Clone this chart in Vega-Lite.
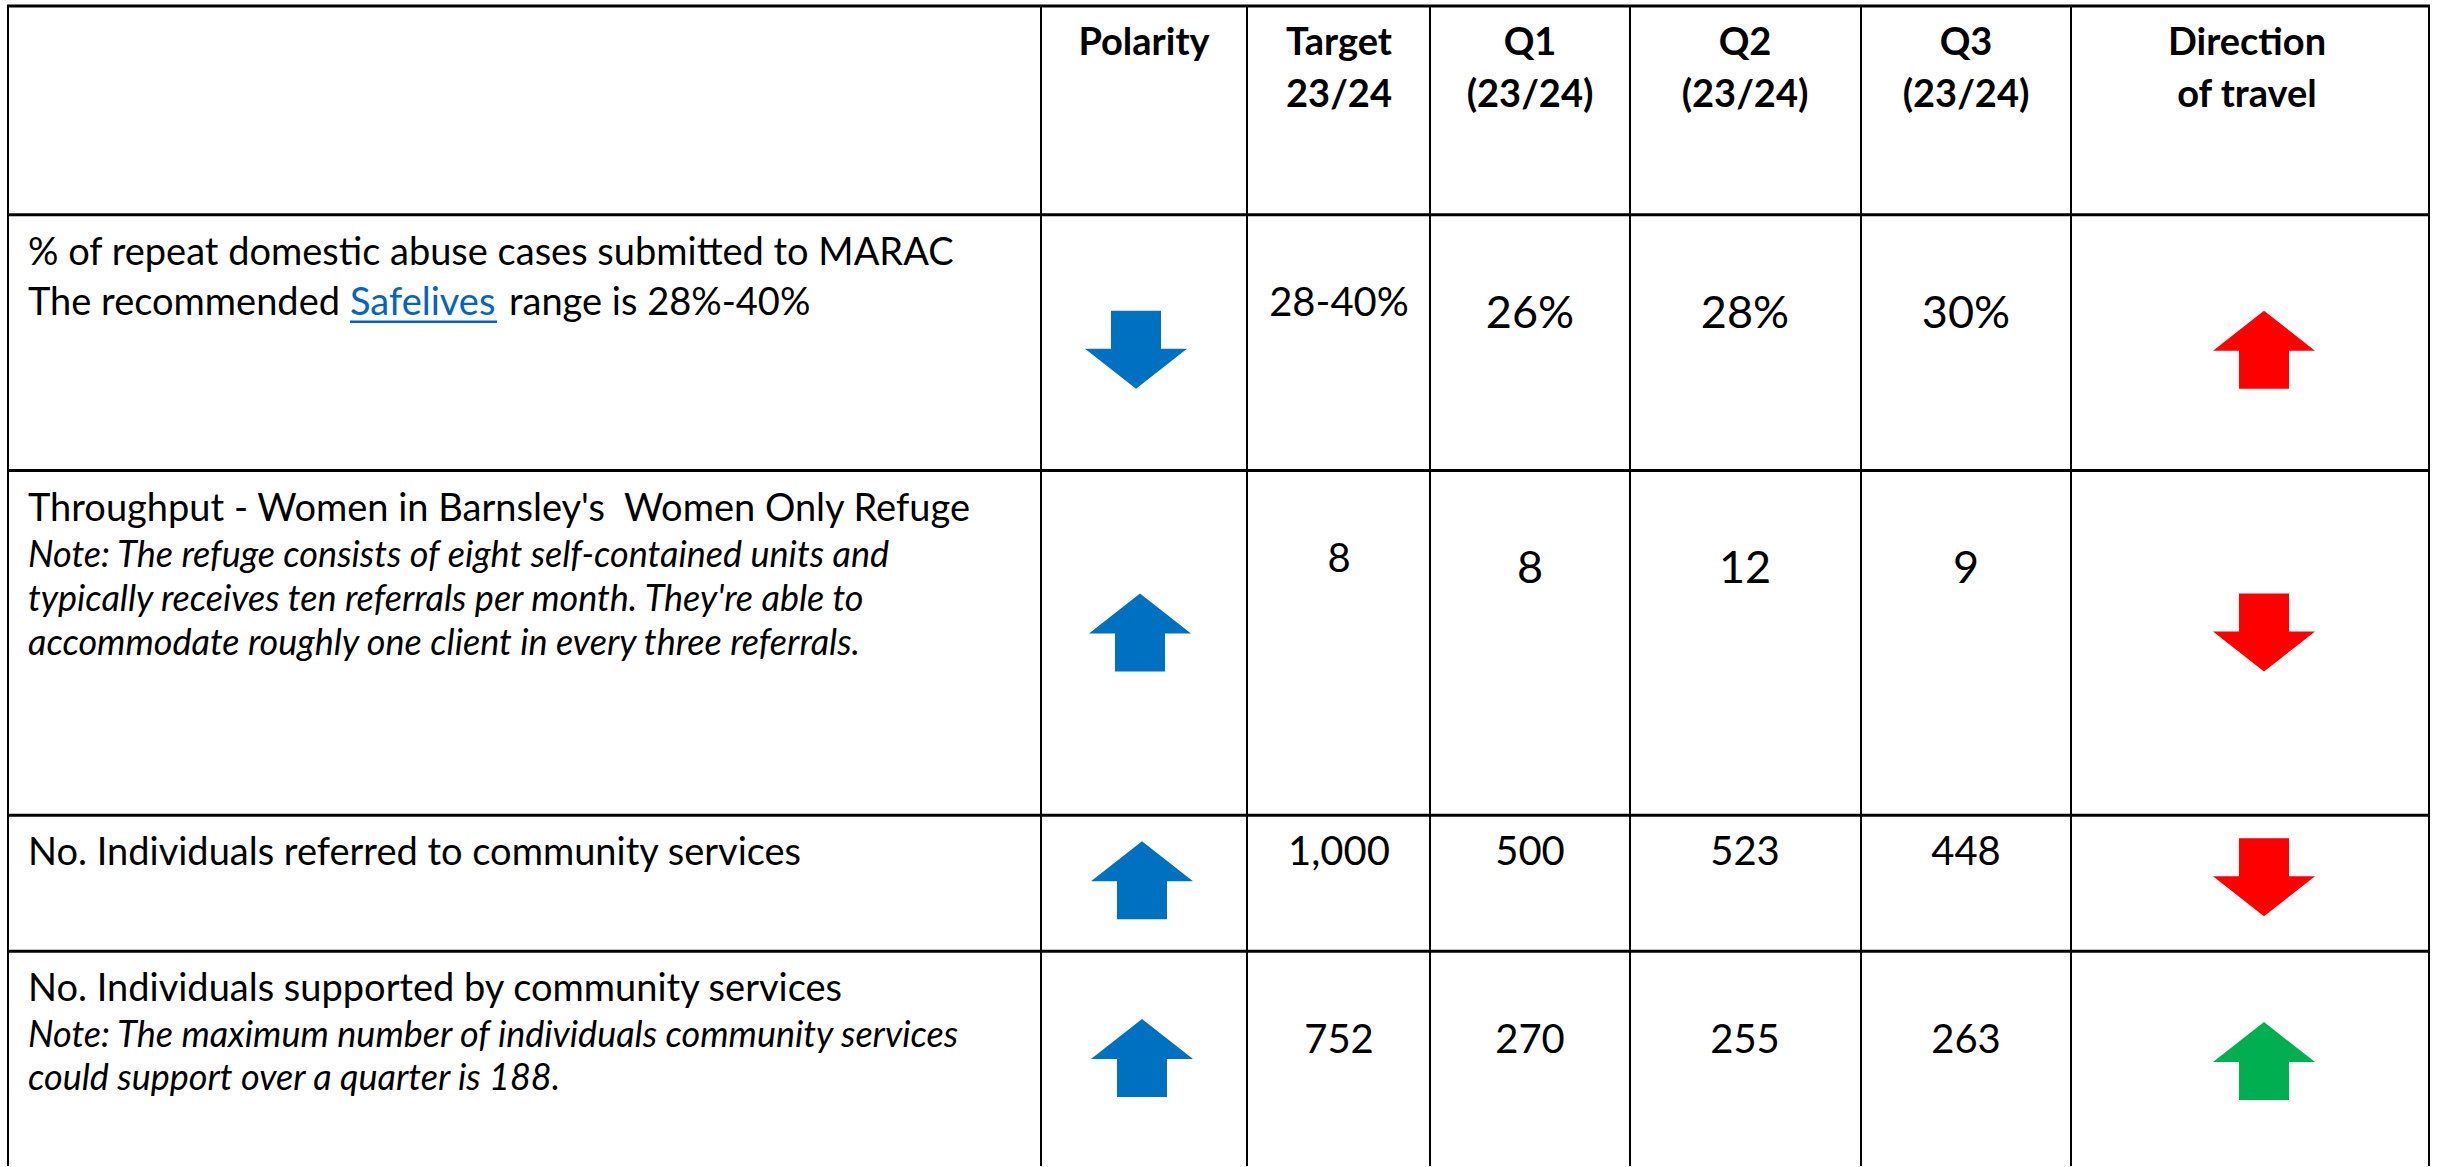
{
  "$schema": "https://vega.github.io/schema/vega-lite/v6.json",
  "width": 2440,
  "height": 1167,
  "autosize": {"type": "fit", "contains": "padding"},
  "padding": 0,
  "background": "white",
  "config": {"view": {"stroke": null}, "text": {"font": "Lato"}},
  "datasets": {
    "hlines": [
      {"y": 6, "x1": 7, "x2": 2430},
      {"y": 215, "x1": 7, "x2": 2430},
      {"y": 471, "x1": 7, "x2": 2430},
      {"y": 816, "x1": 7, "x2": 2430},
      {"y": 952, "x1": 7, "x2": 2430}
    ],
    "vlines": [
      {"x": 8, "y1": 5, "y2": 1167},
      {"x": 1041, "y1": 5, "y2": 1167},
      {"x": 1247, "y1": 5, "y2": 1167},
      {"x": 1430, "y1": 5, "y2": 1167},
      {"x": 1630, "y1": 5, "y2": 1167},
      {"x": 1861, "y1": 5, "y2": 1167},
      {"x": 2071, "y1": 5, "y2": 1167},
      {"x": 2429, "y1": 5, "y2": 1167}
    ],
    "headers": [
      {"x": 1144, "y": 55, "text": "Polarity"},
      {"x": 1339, "y": 55, "text": "Target"},
      {"x": 1339, "y": 107, "text": "23/24"},
      {"x": 1530, "y": 55, "text": "Q1"},
      {"x": 1530, "y": 107, "text": "(23/24)"},
      {"x": 1745, "y": 55, "text": "Q2"},
      {"x": 1745, "y": 107, "text": "(23/24)"},
      {"x": 1966, "y": 55, "text": "Q3"},
      {"x": 1966, "y": 107, "text": "(23/24)"},
      {"x": 2247, "y": 55, "text": "Direction"},
      {"x": 2247, "y": 107, "text": "of travel"}
    ],
    "desc": [
      {"x": 28, "y": 265, "text": "% of repeat domestic abuse cases submitted to MARAC"},
      {"x": 28, "y": 315, "text": "The recommended"},
      {"x": 509, "y": 315, "text": "range is 28%-40%"},
      {"x": 28, "y": 521, "text": "Throughput - Women in Barnsley's \u00a0Women Only Refuge"},
      {"x": 28, "y": 866, "text": "No. Individuals referred to community services"},
      {"x": 28, "y": 1002, "text": "No. Individuals supported by community services"}
    ],
    "link": [{"x": 350, "y": 315, "text": "Safelives"}],
    "underline": [{"x1": 350, "x2": 497, "y": 322}],
    "notes": [
      {"x": 28, "y": 567, "text": "Note: The refuge consists of eight self-contained units and"},
      {"x": 28, "y": 612, "text": "typically receives ten referrals per month. They're able to"},
      {"x": 28, "y": 656, "text": "accommodate roughly one client in every three referrals."},
      {"x": 28, "y": 1048, "text": "Note: The maximum number of individuals community services"},
      {"x": 28, "y": 1091, "text": "could support over a quarter is 188."}
    ],
    "valuesSmall": [
      {"x": 1339, "y": 316, "text": "28-40%"},
      {"x": 1339, "y": 572, "text": "8"},
      {"x": 1339, "y": 866, "text": "1,000"},
      {"x": 1530, "y": 866, "text": "500"},
      {"x": 1745, "y": 866, "text": "523"},
      {"x": 1966, "y": 866, "text": "448"},
      {"x": 1339, "y": 1054, "text": "752"},
      {"x": 1530, "y": 1054, "text": "270"},
      {"x": 1745, "y": 1054, "text": "255"},
      {"x": 1966, "y": 1054, "text": "263"}
    ],
    "valuesLarge": [
      {"x": 1530, "y": 328, "text": "26%"},
      {"x": 1745, "y": 328, "text": "28%"},
      {"x": 1966, "y": 328, "text": "30%"},
      {"x": 1530, "y": 584, "text": "8"},
      {"x": 1745, "y": 584, "text": "12"},
      {"x": 1966, "y": 584, "text": "9"}
    ],
    "arrowsUp": [
      {"x": 1140, "y": 633, "status": "polarity"},
      {"x": 1142, "y": 881, "status": "polarity"},
      {"x": 1142, "y": 1059, "status": "polarity"},
      {"x": 2264, "y": 350, "status": "worse"},
      {"x": 2264, "y": 1062, "status": "better"}
    ],
    "arrowsDown": [
      {"x": 1136, "y": 350, "status": "polarity"},
      {"x": 2264, "y": 633, "status": "worse"},
      {"x": 2264, "y": 878, "status": "worse"}
    ]
  },
  "layer": [
    {
      "data": {"name": "hlines"},
      "mark": {"type": "rule", "color": "#000000", "strokeWidth": 3},
      "encoding": {
        "x": {"field": "x1", "type": "quantitative", "scale": {"domain": [0, 2440]}, "axis": null},
        "x2": {"field": "x2"},
        "y": {"field": "y", "type": "quantitative", "scale": {"domain": [0, 1167], "reverse": true}, "axis": null}
      }
    },
    {
      "data": {"name": "vlines"},
      "mark": {"type": "rule", "color": "#000000", "strokeWidth": 2},
      "encoding": {
        "x": {"field": "x", "type": "quantitative", "scale": {"domain": [0, 2440]}, "axis": null},
        "y": {"field": "y1", "type": "quantitative", "scale": {"domain": [0, 1167], "reverse": true}, "axis": null},
        "y2": {"field": "y2"}
      }
    },
    {
      "data": {"name": "headers"},
      "mark": {"type": "text", "align": "center", "baseline": "alphabetic", "fontSize": 38, "fontWeight": "bold", "color": "#000000"},
      "encoding": {
        "x": {"field": "x", "type": "quantitative", "scale": {"domain": [0, 2440]}, "axis": null},
        "y": {"field": "y", "type": "quantitative", "scale": {"domain": [0, 1167], "reverse": true}, "axis": null},
        "text": {"field": "text", "type": "nominal"}
      }
    },
    {
      "data": {"name": "desc"},
      "mark": {"type": "text", "align": "left", "baseline": "alphabetic", "fontSize": 38, "color": "#000000"},
      "encoding": {
        "x": {"field": "x", "type": "quantitative", "scale": {"domain": [0, 2440]}, "axis": null},
        "y": {"field": "y", "type": "quantitative", "scale": {"domain": [0, 1167], "reverse": true}, "axis": null},
        "text": {"field": "text", "type": "nominal"}
      }
    },
    {
      "data": {"name": "link"},
      "mark": {"type": "text", "align": "left", "baseline": "alphabetic", "fontSize": 38, "color": "#0563C1"},
      "encoding": {
        "x": {"field": "x", "type": "quantitative", "scale": {"domain": [0, 2440]}, "axis": null},
        "y": {"field": "y", "type": "quantitative", "scale": {"domain": [0, 1167], "reverse": true}, "axis": null},
        "text": {"field": "text", "type": "nominal"}
      }
    },
    {
      "data": {"name": "underline"},
      "mark": {"type": "rule", "color": "#0563C1", "strokeWidth": 2.5},
      "encoding": {
        "x": {"field": "x1", "type": "quantitative", "scale": {"domain": [0, 2440]}, "axis": null},
        "x2": {"field": "x2"},
        "y": {"field": "y", "type": "quantitative", "scale": {"domain": [0, 1167], "reverse": true}, "axis": null}
      }
    },
    {
      "data": {"name": "notes"},
      "mark": {"type": "text", "align": "left", "baseline": "alphabetic", "fontSize": 36, "fontStyle": "italic", "color": "#000000"},
      "encoding": {
        "x": {"field": "x", "type": "quantitative", "scale": {"domain": [0, 2440]}, "axis": null},
        "y": {"field": "y", "type": "quantitative", "scale": {"domain": [0, 1167], "reverse": true}, "axis": null},
        "text": {"field": "text", "type": "nominal"}
      }
    },
    {
      "data": {"name": "valuesSmall"},
      "mark": {"type": "text", "align": "center", "baseline": "alphabetic", "fontSize": 40, "color": "#000000"},
      "encoding": {
        "x": {"field": "x", "type": "quantitative", "scale": {"domain": [0, 2440]}, "axis": null},
        "y": {"field": "y", "type": "quantitative", "scale": {"domain": [0, 1167], "reverse": true}, "axis": null},
        "text": {"field": "text", "type": "nominal"}
      }
    },
    {
      "data": {"name": "valuesLarge"},
      "mark": {"type": "text", "align": "center", "baseline": "alphabetic", "fontSize": 45, "color": "#000000"},
      "encoding": {
        "x": {"field": "x", "type": "quantitative", "scale": {"domain": [0, 2440]}, "axis": null},
        "y": {"field": "y", "type": "quantitative", "scale": {"domain": [0, 1167], "reverse": true}, "axis": null},
        "text": {"field": "text", "type": "nominal"}
      }
    },
    {
      "data": {"name": "arrowsUp"},
      "mark": {"type": "point", "filled": true, "opacity": 1, "strokeWidth": 0, "size": 10404, "shape": "M0,-0.765L1,0.02L0.49,0.02L0.49,0.765L-0.49,0.765L-0.49,0.02L-1,0.02Z"},
      "encoding": {
        "x": {"field": "x", "type": "quantitative", "scale": {"domain": [0, 2440]}, "axis": null},
        "y": {"field": "y", "type": "quantitative", "scale": {"domain": [0, 1167], "reverse": true}, "axis": null},
        "color": {"field": "status", "type": "nominal", "scale": {"domain": ["polarity", "worse", "better"], "range": ["#0070C0", "#FF0000", "#00B050"]}, "legend": null}
      }
    },
    {
      "data": {"name": "arrowsDown"},
      "mark": {"type": "point", "filled": true, "opacity": 1, "strokeWidth": 0, "size": 10404, "shape": "M0,0.765L1,-0.02L0.49,-0.02L0.49,-0.765L-0.49,-0.765L-0.49,-0.02L-1,-0.02Z"},
      "encoding": {
        "x": {"field": "x", "type": "quantitative", "scale": {"domain": [0, 2440]}, "axis": null},
        "y": {"field": "y", "type": "quantitative", "scale": {"domain": [0, 1167], "reverse": true}, "axis": null},
        "color": {"field": "status", "type": "nominal", "scale": {"domain": ["polarity", "worse", "better"], "range": ["#0070C0", "#FF0000", "#00B050"]}, "legend": null}
      }
    }
  ]
}
